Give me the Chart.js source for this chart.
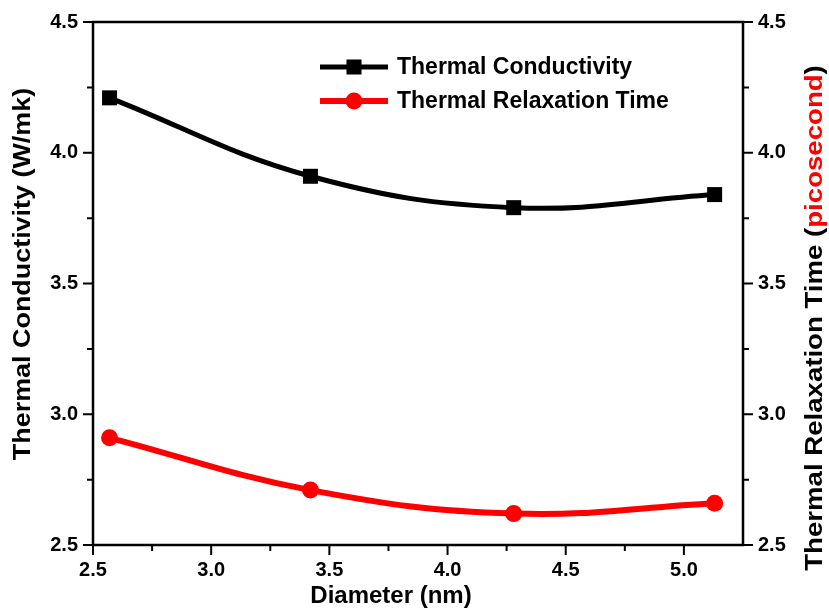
<!DOCTYPE html>
<html lang="en">
<head>
  <meta charset="UTF-8">
  <title>Thermal Conductivity vs Diameter</title>
  <script src="https://cdn.jsdelivr.net/npm/chart.js"></script>
  <style>
    html, body { margin: 0; padding: 0; background: #fff; }
  </style>
</head>
<body>
  <canvas id="chart" width="829" height="609"></canvas>

  <script>
    // data
    const diameters = [2.57, 3.42, 4.28, 5.13];
    const conductivity = [4.21, 3.91, 3.79, 3.84];
    const relaxationTime = [2.91, 2.71, 2.62, 2.66];
    const xTicks = [2.5, 3.0, 3.5, 4.0, 4.5, 5.0];
    const yTicks = [2.5, 3.0, 3.5, 4.0, 4.5];

    const FONT = '"Liberation Sans", Arial, sans-serif';

    // draws rotated text stretched a bit along its direction, like the original
    function verticalTitle(ctx, parts, cx, cy, stretch) {
      ctx.save();
      ctx.translate(cx, cy);
      ctx.rotate(-Math.PI / 2);
      ctx.scale(stretch, 1);
      ctx.textAlign = 'left';
      const total = parts.reduce((s, p) => s + ctx.measureText(p[0]).width, 0);
      let x = -total / 2;
      parts.forEach(([t, c]) => {
        ctx.fillStyle = c;
        ctx.fillText(t, x, 0);
        x += ctx.measureText(t).width;
      });
      ctx.restore();
    }

    // frame, tick marks, axis titles and the legend
    const decorations = {
      id: 'decorations',
      afterDraw(chart) {
        const ctx = chart.ctx;
        const a = chart.chartArea;
        const x = chart.scales.x, y = chart.scales.y;
        ctx.save();
        ctx.strokeStyle = '#000';
        ctx.lineWidth = 2.5;
        ctx.strokeRect(a.left, a.top, a.right - a.left, a.bottom - a.top);

        ctx.lineWidth = 2;
        ctx.beginPath();
        xTicks.forEach((v) => {
          const px = x.getPixelForValue(v);
          ctx.moveTo(px, a.bottom); ctx.lineTo(px, a.bottom + 10);
          const mv = v + 0.25;
          if (mv < x.max) {
            const mx = x.getPixelForValue(mv);
            ctx.moveTo(mx, a.bottom); ctx.lineTo(mx, a.bottom + 6);
          }
        });
        yTicks.forEach((v) => {
          const py = y.getPixelForValue(v);
          ctx.moveTo(a.left - 10, py); ctx.lineTo(a.left, py);
          ctx.moveTo(a.right, py); ctx.lineTo(a.right + 10, py);
          const mv = v + 0.25;
          if (mv < y.max) {
            const my = y.getPixelForValue(mv);
            ctx.moveTo(a.left - 6, my); ctx.lineTo(a.left, my);
            ctx.moveTo(a.right, my); ctx.lineTo(a.right + 6, my);
          }
        });
        ctx.stroke();

        // axis titles
        ctx.fillStyle = '#000';
        ctx.font = 'bold 24px ' + FONT;
        ctx.textAlign = 'center';
        ctx.textBaseline = 'middle';
        ctx.fillText('Diameter (nm)', 391, 596);

        ctx.font = 'bold 23px ' + FONT;
        verticalTitle(ctx, [['Thermal Conductivity (W/mk)', '#000']], 24, 274, 1.17);
        verticalTitle(ctx, [['Thermal Relaxation Time (', '#000'], ['picosecond', '#ff0000'], [')', '#000']], 816, 318, 1.2);

        // legend
        ctx.font = 'bold 23px ' + FONT;
        ctx.textAlign = 'left';
        chart.data.datasets.forEach((ds, i) => {
          const ly = 67 + i * 34;
          ctx.strokeStyle = ds.borderColor;
          ctx.lineWidth = ds.borderWidth;
          ctx.beginPath();
          ctx.moveTo(320, ly); ctx.lineTo(388, ly);
          ctx.stroke();
          ctx.fillStyle = ds.pointBackgroundColor;
          if (ds.pointStyle === 'rect') {
            ctx.fillRect(354 - 7.5, ly - 7.5, 15, 15);
          } else {
            ctx.beginPath();
            ctx.arc(354, ly, ds.pointRadius, 0, Math.PI * 2);
            ctx.fill();
          }
          ctx.fillStyle = '#000';
          ctx.fillText(ds.label, 397, ly + 1);
        });
        ctx.restore();
      }
    };

    const tickFont = { family: FONT, size: 20, weight: 'bold' };

    new Chart(document.getElementById('chart'), {
      type: 'line',
      data: {
        datasets: [{
          label: 'Thermal Conductivity',
          data: diameters.map((d, i) => ({ x: d, y: conductivity[i] })),
          yAxisID: 'y',
          borderColor: '#000',
          backgroundColor: '#000',
          pointBackgroundColor: '#000',
          pointBorderWidth: 0,
          borderWidth: 5,
          pointStyle: 'rect',
          pointRadius: 10.6,
          tension: 0.4
        }, {
          label: 'Thermal Relaxation Time',
          data: diameters.map((d, i) => ({ x: d, y: relaxationTime[i] })),
          yAxisID: 'y1',
          borderColor: '#ff0000',
          backgroundColor: '#ff0000',
          pointBackgroundColor: '#ff0000',
          pointBorderWidth: 0,
          borderWidth: 6,
          pointStyle: 'circle',
          pointRadius: 8.5,
          tension: 0.4
        }]
      },
      options: {
        responsive: false,
        animation: false,
        layout: { padding: { top: 22, left: 0, right: 0, bottom: 0 } },
        plugins: {
          legend: { display: false },
          tooltip: { enabled: false }
        },
        scales: {
          x: {
            type: 'linear',
            min: 2.5,
            max: 5.25,
            grid: { display: false },
            border: { display: false },
            afterBuildTicks: (s) => { s.ticks = xTicks.map(v => ({ value: v })); },
            afterFit: (s) => { s.height = 64; },
            ticks: { color: '#000', font: tickFont, padding: 5, callback: v => v.toFixed(1) }
          },
          y: {
            position: 'left',
            min: 2.5,
            max: 4.5,
            grid: { display: false },
            border: { display: false },
            afterBuildTicks: (s) => { s.ticks = yTicks.map(v => ({ value: v })); },
            afterFit: (s) => { s.width = 93; },
            ticks: { color: '#000', font: tickFont, padding: 7, callback: v => v.toFixed(1) }
          },
          y1: {
            position: 'right',
            min: 2.5,
            max: 4.5,
            grid: { display: false },
            border: { display: false },
            afterBuildTicks: (s) => { s.ticks = yTicks.map(v => ({ value: v })); },
            afterFit: (s) => { s.width = 86; },
            ticks: { color: '#000', font: tickFont, padding: 7, callback: v => v.toFixed(1) }
          }
        }
      },
      plugins: [decorations]
    });
  </script>
</body>
</html>
